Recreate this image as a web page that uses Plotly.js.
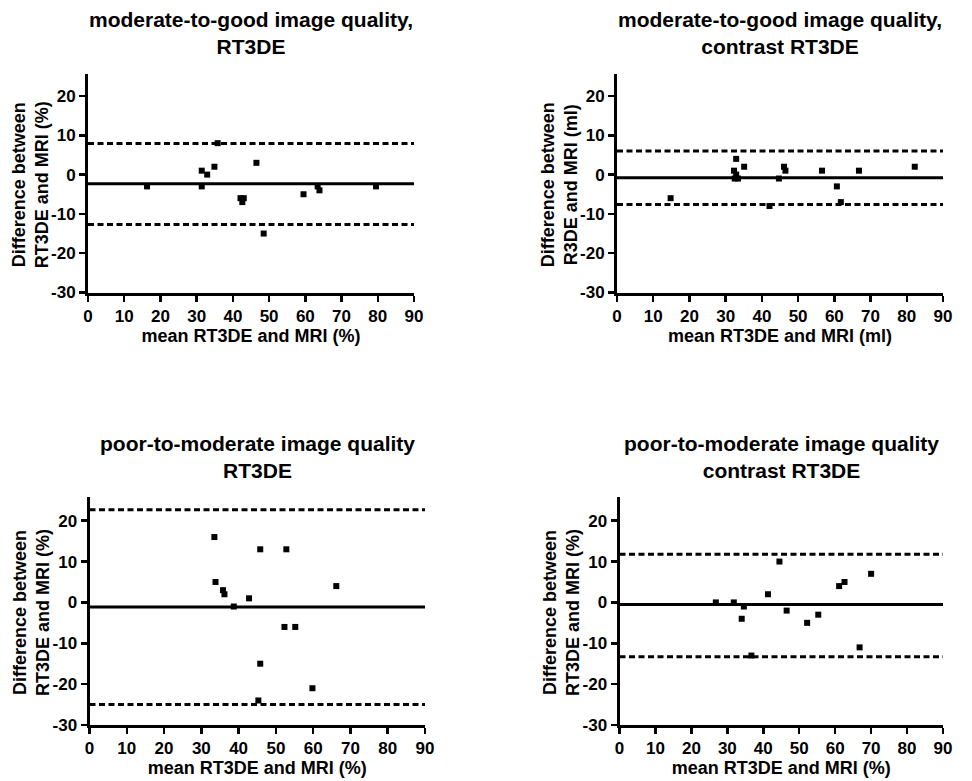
<!DOCTYPE html>
<html>
<head>
<meta charset="utf-8">
<script src="https://cdn.plot.ly/plotly-3.0.1.min.js"></script>
<style>html,body{margin:0;padding:0;background:#fff;}#chart{width:972px;height:781px;}</style>
</head>
<body>
<div id="chart"></div>
<script>
// ---- data ----
const titles = [
  "moderate-to-good image quality,<br>RT3DE",
  "moderate-to-good image quality,<br>contrast RT3DE",
  "poor-to-moderate image quality<br>RT3DE",
  "poor-to-moderate image quality<br>contrast RT3DE"
];
const yTitles = [
  "Difference between<br>RT3DE and MRI (%)",
  "Difference between<br>R3DE and MRI (ml)",
  "Difference between<br>RT3DE and MRI (%)",
  "Difference between<br>RT3DE and MRI (%)"
];
const xTitles = [
  "mean RT3DE and MRI (%)",
  "mean RT3DE and MRI (ml)",
  "mean RT3DE and MRI (%)",
  "mean RT3DE and MRI (%)"
];
const xTicks = [0, 10, 20, 30, 40, 50, 60, 70, 80, 90];
const xTickText = ["0", "10", "20", "30", "40", "50", "60", "70", "80", "90"];
const yTicks = [-30, -20, -10, 0, 10, 20];
const yTickText = ["-30", "-20", "-10", "0", "10", "20"];

const p1Mean = [16.3, 31.4, 32.9, 31.4, 34.9, 35.8, 46.5, 42.1, 43.0, 42.6, 48.5, 59.5, 63.4, 63.9, 79.5];
const p1Diff = [-3, 1, 0, -3, 2, 8, 3, -6, -6, -7, -15, -5, -3, -4, -3];
const p1Lines = [-2.3, 7.9, -12.7]; // bias, upper, lower

const p2Mean = [14.8, 32.9, 32.3, 32.9, 32.5, 33.4, 35.1, 42.1, 44.7, 46.1, 46.5, 56.6, 60.7, 61.8, 66.8, 82.2];
const p2Diff = [-6, 4, 1, 0, -1, -1, 2, -8, -1, 2, 1, 1, -3, -7, 1, 2];
const p2Lines = [-0.8, 6.0, -7.6];

const p3Mean = [33.5, 33.8, 35.8, 36.2, 38.7, 42.8, 45.8, 52.8, 52.3, 55.2, 45.8, 59.8, 45.3, 66.2];
const p3Diff = [16, 5, 3, 2, -1, 1, 13, 13, -6, -6, -15, -21, -24, 4];
const p3Lines = [-1.1, 22.7, -25.0];

const p4Mean = [26.8, 31.8, 34.6, 34.0, 36.7, 41.3, 44.5, 46.5, 52.2, 55.3, 61.1, 62.6, 66.8, 70.0];
const p4Diff = [0, 0, -1, -4, -13, 2, 10, -2, -5, -3, 4, 5, -11, 7];
const p4Lines = [-0.5, 11.8, -13.3];

const means = [p1Mean, p2Mean, p3Mean, p4Mean];
const diffs = [p1Diff, p2Diff, p3Diff, p4Diff];
const lines = [p1Lines, p2Lines, p3Lines, p4Lines];

// ---- layout geometry (pixels) ----
const W = 972, H = 781;
const boxes = [
  {x0: 88, x1: 414, y0: 74, y1: 292.5, yr: [-30, 25.6], ytx: 30},
  {x0: 617, x1: 943, y0: 74, y1: 292.5, yr: [-30, 25.6], ytx: 559},
  {x0: 89.5, x1: 425, y0: 497, y1: 725, yr: [-30, 25.8], ytx: 31},
  {x0: 619.5, x1: 943, y0: 497, y1: 725, yr: [-30, 25.8], ytx: 561}
];

const FONT = "Liberation Sans, Arial, sans-serif";
const traces = [];
const layout = {
  width: W, height: H,
  margin: {l: 0, r: 0, t: 0, b: 0},
  paper_bgcolor: "#ffffff", plot_bgcolor: "#ffffff",
  showlegend: false,
  shapes: [], annotations: []
};

for (let i = 0; i < 4; i++) {
  const b = boxes[i];
  const sfx = i === 0 ? "" : String(i + 1);
  const xa = "xaxis" + sfx, ya = "yaxis" + sfx;
  const xr = "x" + sfx, yr = "y" + sfx;
  const common = {
    showline: true, linecolor: "#000", linewidth: 3,
    ticks: "outside", ticklen: 6, tickwidth: 2.5, tickcolor: "#000",
    showgrid: false, zeroline: false,
    tickfont: {family: FONT, size: 17, color: "#000", weight: 700},
    fixedrange: true
  };
  layout[xa] = Object.assign({}, common, {
    domain: [b.x0 / W, b.x1 / W], anchor: yr,
    range: [0, 90], tickmode: "array", tickvals: xTicks, ticktext: xTickText,
    title: {text: xTitles[i], font: {family: FONT, size: 18, color: "#000", weight: 700}, standoff: 4}
  });
  layout[ya] = Object.assign({}, common, {
    domain: [1 - b.y1 / H, 1 - b.y0 / H], anchor: xr,
    range: b.yr, tickmode: "array", tickvals: yTicks, ticktext: yTickText
  });

  traces.push({
    type: "scatter", mode: "markers", xaxis: xr, yaxis: yr,
    x: means[i], y: diffs[i],
    marker: {symbol: "square", size: 6, color: "#000"},
    cliponaxis: false, hoverinfo: "x+y"
  });

  const L = lines[i];
  [0, 1, 2].forEach(k => {
    layout.shapes.push({
      type: "line", xref: xr, yref: yr,
      x0: 0, x1: 90, y0: L[k], y1: L[k],
      line: {color: "#000", width: 3, dash: k === 0 ? "solid" : "6px,3.5px"}
    });
  });

  // panel title
  layout.annotations.push({
    xref: "paper", yref: "paper",
    x: ((b.x0 + b.x1) / 2) / W, y: 1 - (i < 2 ? 6 : 430) / H,
    xanchor: "center", yanchor: "top", showarrow: false,
    text: titles[i],
    font: {family: FONT, size: 21, color: "#000", weight: 700}
  });
  // y-axis title (rotated)
  layout.annotations.push({
    xref: "paper", yref: "paper",
    x: b.ytx / W, y: 1 - ((b.y0 + b.y1) / 2 + 2) / H,
    xanchor: "center", yanchor: "middle", showarrow: false,
    textangle: -90,
    text: yTitles[i],
    font: {family: FONT, size: 18, color: "#000", weight: 700}
  });
}

Plotly.newPlot("chart", traces, layout, {displayModeBar: false, staticPlot: true});
</script>
</body>
</html>
